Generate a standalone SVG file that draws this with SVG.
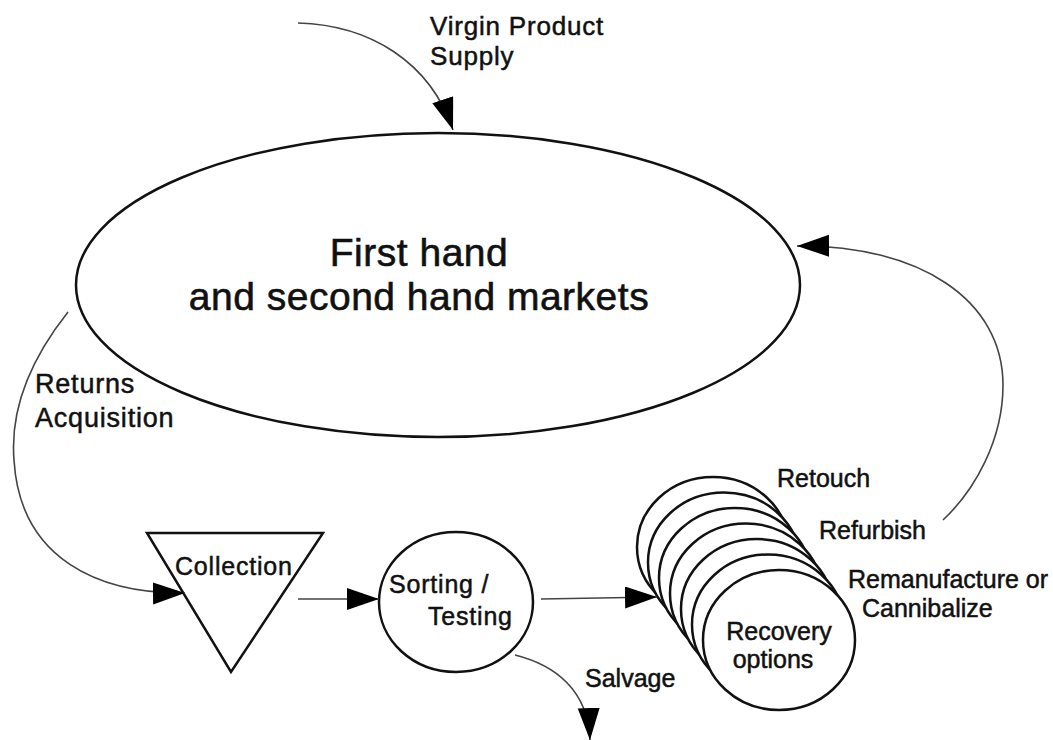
<svg xmlns="http://www.w3.org/2000/svg" width="1053" height="740" viewBox="0 0 1053 740">
  <defs>
    <style>
      .shape { fill: #fff; stroke: #111; stroke-width: 2.5; }
      .conn { fill: none; stroke: #444; stroke-width: 1.6; }
      .lbl { font-family: "Liberation Sans", Arial, sans-serif; fill: #111; stroke: #111; stroke-width: 0.5px; font-size: 26px; letter-spacing: 0.8px; }
      .big { font-size: 39px; letter-spacing: 0.5px; stroke-width: 0.6px; }
      .mid { text-anchor: middle; }
    </style>
    <marker id="head" markerUnits="userSpaceOnUse" markerWidth="34" markerHeight="24" refX="32" refY="11" orient="auto">
      <path d="M0,0 L32,11 L0,22 z" fill="#000"/>
    </marker>
  </defs>

  <g id="markets">
    <ellipse class="shape" cx="438" cy="285" rx="362" ry="152"/>
    <text class="lbl big mid" x="419" y="266">First hand</text>
    <text class="lbl big mid" x="419" y="310">and second hand markets</text>
  </g>

  <g id="collection">
    <polygon class="shape" points="147,533 323,533 231,672"/>
    <text class="lbl" x="175" y="575" style="font-size:25px">Collection</text>
  </g>

  <g id="sorting">
    <ellipse class="shape" cx="456" cy="602" rx="77" ry="70"/>
    <text class="lbl" x="389" y="593" style="font-size:25px">Sorting /</text>
    <text class="lbl" x="428" y="625" style="font-size:25px">Testing</text>
  </g>

  <g id="recovery">
    <ellipse class="shape" cx="713" cy="547" rx="76" ry="70"/>
    <ellipse class="shape" cx="724" cy="562.5" rx="76" ry="70"/>
    <ellipse class="shape" cx="735" cy="578" rx="76" ry="70"/>
    <ellipse class="shape" cx="746" cy="593.5" rx="76" ry="70"/>
    <ellipse class="shape" cx="757" cy="609" rx="76" ry="70"/>
    <ellipse class="shape" cx="768" cy="624.5" rx="76" ry="70"/>
    <ellipse class="shape" cx="779" cy="640" rx="76" ry="70"/>
    <text class="lbl mid" x="779" y="640" style="font-size:25px;letter-spacing:0">Recovery</text>
    <text class="lbl mid" x="773" y="668" style="font-size:25px;letter-spacing:0">options</text>
  </g>

  <g id="connectors">
    <path class="conn" d="M298,23 C370,25 430,62 453,130" marker-end="url(#head)"/>
    <path class="conn" d="M68,312 C30,360 10,410 14,460 C20,560 100,594 185,593" marker-end="url(#head)"/>
    <path class="conn" d="M298,599 L379,599" marker-end="url(#head)"/>
    <path class="conn" d="M541,599 L657,597" marker-end="url(#head)"/>
    <path class="conn" d="M515,655 C555,665 588,690 590,740" marker-end="url(#head)"/>
    <path class="conn" d="M943,520 C975,490 1003,440 1003,385 C1003,300 920,245 797,246" marker-end="url(#head)"/>
  </g>

  <g id="labels">
    <text class="lbl" x="430" y="35">Virgin Product</text>
    <text class="lbl" x="430" y="65">Supply</text>
    <text class="lbl" x="35" y="393" style="font-size:27px">Returns</text>
    <text class="lbl" x="35" y="427" style="font-size:27px">Acquisition</text>
    <text class="lbl" x="585" y="687" style="font-size:25px;letter-spacing:0">Salvage</text>
    <text class="lbl" x="777" y="487" style="font-size:25px;letter-spacing:0">Retouch</text>
    <text class="lbl" x="819" y="539" style="font-size:25px;letter-spacing:0">Refurbish</text>
    <text class="lbl" x="848" y="588" style="font-size:25px;letter-spacing:0">Remanufacture or</text>
    <text class="lbl" x="862" y="617" style="font-size:25px;letter-spacing:0">Cannibalize</text>
  </g>
</svg>
